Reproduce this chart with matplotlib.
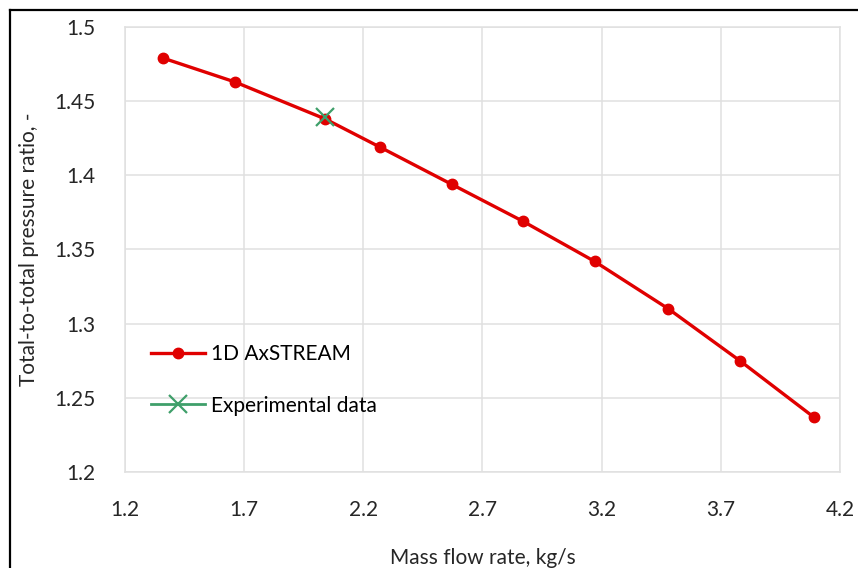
import matplotlib.pyplot as plt
from matplotlib.lines import Line2D

plt.rcParams['font.family'] = ['Lato', 'DejaVu Sans']

# data
mass_flow = [1.36, 1.66, 2.04, 2.27, 2.57, 2.87, 3.17, 3.48, 3.78, 4.09]
pr_axstream = [1.479, 1.463, 1.438, 1.419, 1.394, 1.369, 1.342, 1.310, 1.275, 1.237]
mass_flow_exp = [2.04]
pr_exp = [1.439]

x_ticks = [1.2, 1.7, 2.2, 2.7, 3.2, 3.7, 4.2]
y_ticks = [1.2, 1.25, 1.3, 1.35, 1.4, 1.45, 1.5]
y_tick_labels = ['1.2', '1.25', '1.3', '1.35', '1.4', '1.45', '1.5']

fig = plt.figure(figsize=(8.58, 5.68), dpi=100)
ax = fig.add_axes([0.1457, 0.169, 0.979 - 0.1457, 0.9525 - 0.169])

red = '#e00000'
green = '#3f9f6a'

ax.plot(mass_flow, pr_axstream, color=red, linewidth=2.4, marker='o',
        markersize=7.5, markerfacecolor=red, markeredgecolor=red,
        label='1D AxSTREAM', zorder=3)
ax.plot(mass_flow_exp, pr_exp, color=green, linewidth=2.0, marker='x',
        markersize=13, markeredgewidth=1.6, linestyle='-',
        label='Experimental data', zorder=4)

ax.set_xlim(1.2, 4.2)
ax.set_ylim(1.2, 1.5)
ax.set_xticks(x_ticks)
ax.set_xticklabels([str(v) for v in x_ticks])
ax.set_yticks(y_ticks)
ax.set_yticklabels(y_tick_labels)
ax.tick_params(length=0, labelsize=15, colors='#262626')
ax.tick_params(axis='y', pad=21)
ax.tick_params(axis='x', pad=20)

ax.grid(True, color='#e0e0e0', linewidth=1.1)
ax.set_axisbelow(True)
for s in ax.spines.values():
    s.set_color('#e0e0e0')
    s.set_linewidth(1.1)

ax.set_xlabel('Mass flow rate, kg/s', fontsize=15, color='#262626', labelpad=20)
ax.set_ylabel('Total-to-total pressure ratio, -', fontsize=15, color='#262626', labelpad=11)

ax.legend(loc='upper left', bbox_to_anchor=(0.01, 0.329), frameon=False,
          fontsize=15, handlelength=2.6, handletextpad=0.3, labelspacing=1.5)

# black frame around the figure (left and top visible)
fig.add_artist(Line2D([10 / 858, 10 / 858], [0, 1 - 10 / 568], color='black', linewidth=1.6))
fig.add_artist(Line2D([10 / 858, 1], [1 - 10 / 568, 1 - 10 / 568], color='black', linewidth=1.6))

fig.savefig('out.png', dpi=100)
